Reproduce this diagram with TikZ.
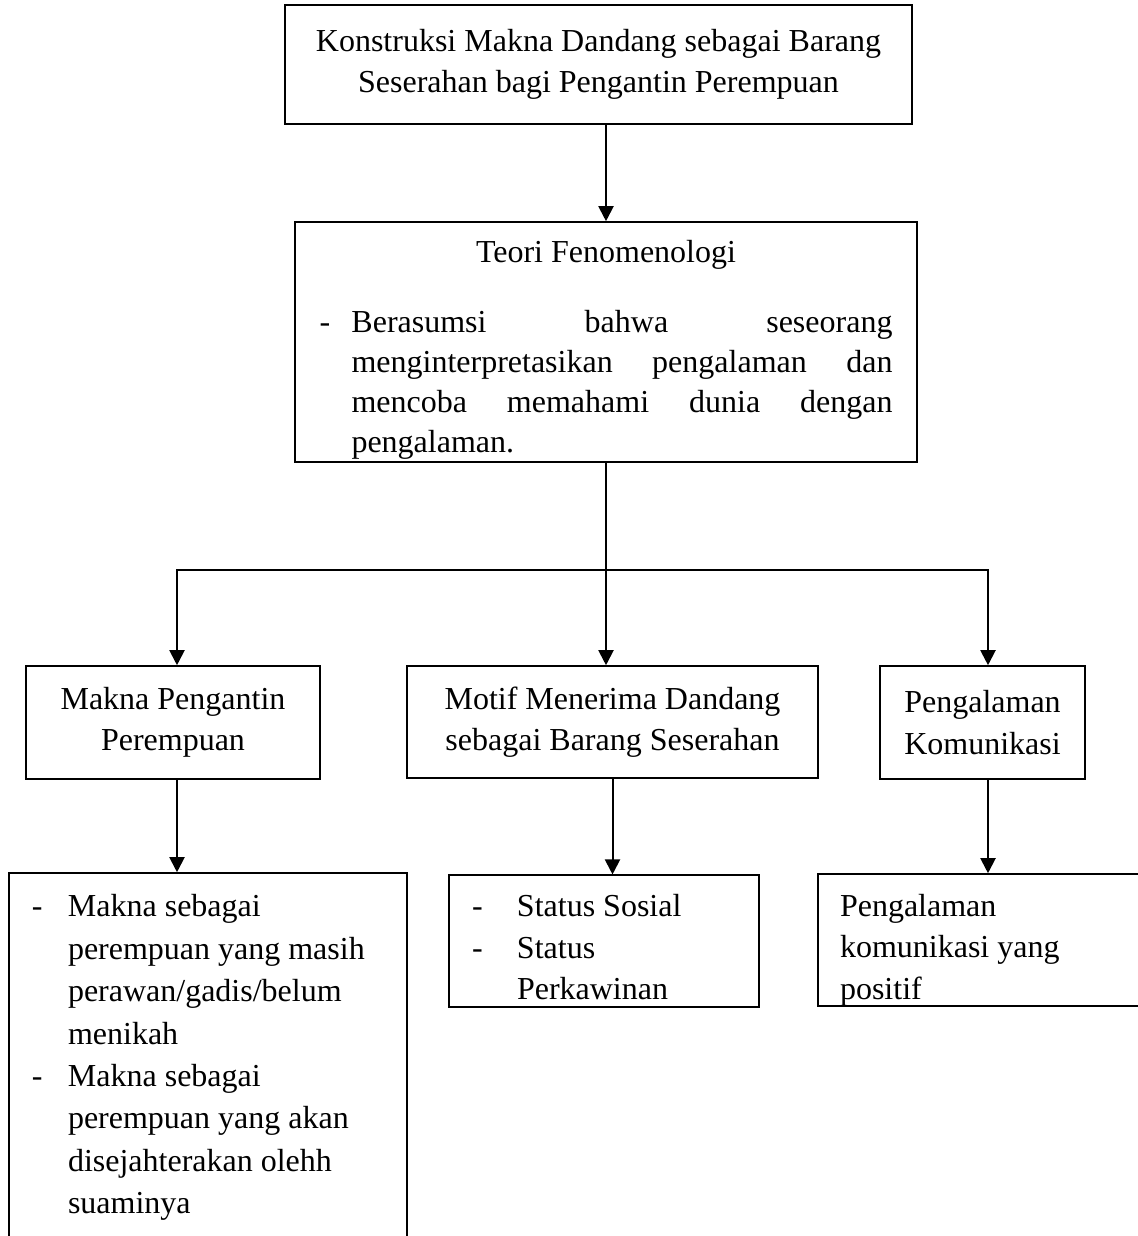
\documentclass[tikz,border=0pt]{standalone}
\usepackage{fontspec}
\setmainfont{Liberation Serif}
\usetikzlibrary{arrows.meta, positioning}
\tolerance=10000
\hyphenpenalty=10000
% dash item with hanging indent
\newcommand{\dashpar}[2]{\par\noindent\hangindent=#1\hangafter=1\makebox[#1][l]{-}#2\par}
% font spaces and plain ragged right inside list boxes
\newcommand{\plainspace}{\spaceskip=0pt\xspaceskip=0pt\rightskip=0pt plus 1fil\relax}

\begin{document}
\begin{tikzpicture}[x=0.5pt, y=-0.5pt,
    font=\fontsize{16}{20.75}\selectfont,
    box/.style={draw, line width=0.8pt, inner sep=0pt, align=center},
    listbox/.style={box, align=left},
    link/.style={line width=1pt},
    arr/.style={link, -{Triangle[width=7.5pt, length=7.5pt]}}
]
\useasboundingbox (0,0) rectangle (1138,1236);
\clip (0,0) rectangle (1138,1236);

% title and theory
\node[box, minimum width=313.5pt, minimum height=59.5pt] (judul) at (598.5,64.5)
  {Konstruksi Makna Dandang sebagai Barang\\Seserahan bagi Pengantin Perempuan};
\node[box, minimum width=311pt, minimum height=120pt, text width=286.5pt, align=justify,
  font=\fontsize{16}{20}\selectfont] (teori) at (606,342)
  {{\centering\noindent\rule{0pt}{19.4pt}Teori Fenomenologi\par}\vspace{15pt}%
   \dashpar{16pt}{Berasumsi bahwa seseorang menginterpretasikan pengalaman dan mencoba memahami dunia dengan pengalaman.}};

% second level
\node[box, minimum width=147pt, minimum height=56.5pt] (makna) at (173,722.5) {Makna Pengantin\\Perempuan};
\node[box, minimum width=205.5pt, minimum height=56pt] (motif) at (612.5,722) {Motif Menerima Dandang\\sebagai Barang Seserahan};
\node[box, minimum width=102.5pt, minimum height=56.5pt] (komun) at (982.5,722.5) {Pengalaman\\Komunikasi};

% details (left box runs past the lower edge, right box past the right edge)
\node[listbox, minimum height=182.5pt, text width=176pt, inner xsep=11.5pt,
  font=\fontsize{16}{21.2}\selectfont] (maknaisi) at (208,1055.5)
  {\plainspace
   \dashpar{18pt}{Makna sebagai\newline perempuan yang masih\newline perawan/gadis/belum\newline menikah}%
   \dashpar{18pt}{Makna sebagai\newline perempuan yang akan\newline disejahterakan olehh\newline suaminya\rule[-11.5pt]{0pt}{11.5pt}}};
\node[listbox, minimum height=65pt, text width=132pt, inner xsep=11.5pt] (motifisi) at (604,941)
  {\plainspace
   \dashpar{22.5pt}{Status Sosial}\dashpar{22.5pt}{Status\newline Perkawinan\rule[-3.5pt]{0pt}{3.5pt}}};
\node[listbox, minimum height=66pt, text width=149pt, inner xsep=11pt] (komunisi) at (989,940)
  {\plainspace\rule{0pt}{20.9pt}Pengalaman\\komunikasi yang\\positif};

% connectors
\coordinate (cabangkiri) at (177,570);
\coordinate (cabangkanan) at (988,570);
\draw[arr] (teori.north |- judul.south) -- (teori.north);
\draw[arr] (teori.south) -- (teori.south |- motif.north);
\draw[arr] (teori.south |- cabangkiri) -- (cabangkiri) -- (cabangkiri |- makna.north);
\draw[arr] (teori.south |- cabangkanan) -- (cabangkanan) -- (cabangkanan |- komun.north);
\draw[arr] (cabangkiri |- makna.south) -- (cabangkiri |- maknaisi.north);
\draw[arr] (motif.south) -- (motif.south |- motifisi.north);
\draw[arr] (cabangkanan |- komun.south) -- (cabangkanan |- komunisi.north);
\end{tikzpicture}
\end{document}
